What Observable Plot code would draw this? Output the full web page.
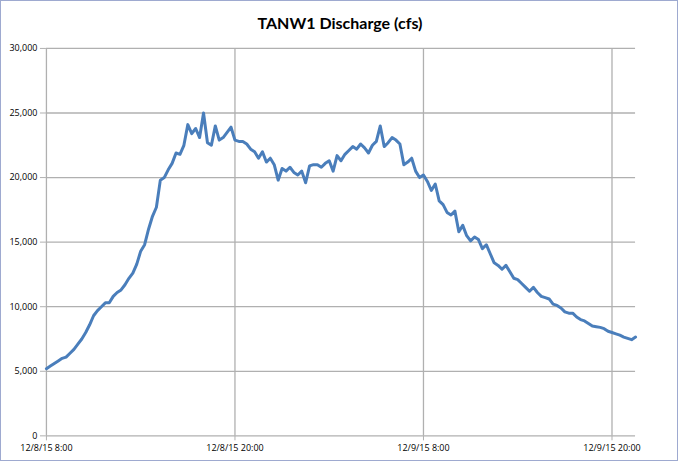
<!DOCTYPE html>
<html>
<head>
<meta charset="utf-8">
<script src="https://cdn.jsdelivr.net/npm/d3@7"></script>
<script src="https://cdn.jsdelivr.net/npm/@observablehq/plot@0.6"></script>
<style>
  html, body { margin: 0; padding: 0; background: #fff; }
  #wrap { position: relative; width: 678px; height: 461px; box-sizing: border-box; border: 1px solid #9eaad0; overflow: hidden; background: #fff; }
  #title { position: absolute; top: 12px; left: 0; width: 678px; text-align: center; font-family: Lato, "Open Sans", sans-serif; font-weight: bold; font-size: 16px; color: #000; }
  #chart { position: absolute; top: -1px; left: -1px; }
</style>
</head>
<body>
<div id="wrap"><div id="title">TANW1 Discharge (cfs)</div><div id="chart"></div></div>
<script>
// Series start (UTC used as wall clock) and sampling step
const startTime = "2015-12-08T08:00:00Z";
const stepMinutes = 15;
// Discharge readings (cfs), every 15 minutes
const discharge = [
  5200, 5400, 5600, 5800, 6000, 6100, 6400, 6700, 7100, 7500,
  8000, 8600, 9300, 9700, 10000, 10300, 10300, 10800, 11100, 11300,
  11700, 12200, 12600, 13300, 14300, 14800, 16000, 17000, 17700, 19800,
  20000, 20600, 21100, 21900, 21800, 22500, 24100, 23400, 23800, 23100,
  25000, 22700, 22500, 24000, 22900, 23100, 23500, 23900, 22900, 22800,
  22800, 22600, 22200, 22000, 21500, 22000, 21200, 21500, 21000, 19800,
  20700, 20500, 20800, 20400, 20200, 20500, 19600, 20900, 21000, 21000,
  20800, 21100, 21300, 20500, 21700, 21300, 21800, 22100, 22400, 22200,
  22600, 22300, 21900, 22500, 22800, 24000, 22400, 22700, 23100, 22900,
  22600, 21000, 21200, 21500, 20500, 20000, 20200, 19700, 19000, 19500,
  18200, 17900, 17300, 17100, 17400, 15800, 16300, 15500, 15100, 15400,
  15200, 14500, 14800, 14100, 13400, 13200, 12900, 13200, 12700, 12200,
  12100, 11800, 11500, 11200, 11500, 11100, 10800, 10700, 10600, 10200,
  10100, 9900, 9600, 9500, 9500, 9200, 9000, 8900, 8700, 8500,
  8450, 8400, 8300, 8100, 8000, 7900, 7800, 7650, 7550, 7450,
  7650
];
// Axis ticks
const xTickTimes = ["2015-12-08T08:00:00Z", "2015-12-08T20:00:00Z", "2015-12-09T08:00:00Z", "2015-12-09T20:00:00Z"];
const xTickLabels = ["12/8/15 8:00", "12/8/15 20:00", "12/9/15 8:00", "12/9/15 20:00"];
const xDomain = ["2015-12-08T08:00:00Z", "2015-12-09T21:30:00Z"];
const yTicks = [0, 5000, 10000, 15000, 20000, 25000, 30000];

const t0 = new Date(startTime).getTime();
const data = discharge.map((v, i) => ({ time: new Date(t0 + i * stepMinutes * 60000), value: v }));
const xTicks = xTickTimes.map(s => new Date(s));
const labelOf = new Map(xTicks.map((d, i) => [d.getTime(), xTickLabels[i]]));
const grid = "#b0b0b0";

const plot = Plot.plot({
  width: 678,
  height: 461,
  marginLeft: 46,
  marginRight: 42,
  marginTop: 48,
  marginBottom: 25,
  style: { fontFamily: "'Open Sans', sans-serif", fontSize: "9px", background: "transparent", color: "#000" },
  x: { type: "utc", domain: xDomain.map(s => new Date(s)) },
  y: { domain: [0, 30000] },
  marks: [
    Plot.ruleY(yTicks, { stroke: grid, strokeWidth: 1.3 }),
    Plot.ruleX(xTicks, { stroke: grid, strokeWidth: 1.3 }),
    Plot.axisY({ ticks: yTicks, tickFormat: d3.format(","), tickSize: 6, tickPadding: 3, stroke: grid, fill: "#000", label: null }),
    Plot.axisX({ ticks: xTicks, tickFormat: d => labelOf.get(d.getTime()), tickSize: 5, tickPadding: 4, stroke: grid, fill: "#000", label: null }),
    Plot.line(data, { x: "time", y: "value", stroke: "#4a7ebb", strokeWidth: 3, strokeLinejoin: "round" })
  ]
});
document.getElementById("chart").appendChild(plot);
</script>
</body>
</html>
